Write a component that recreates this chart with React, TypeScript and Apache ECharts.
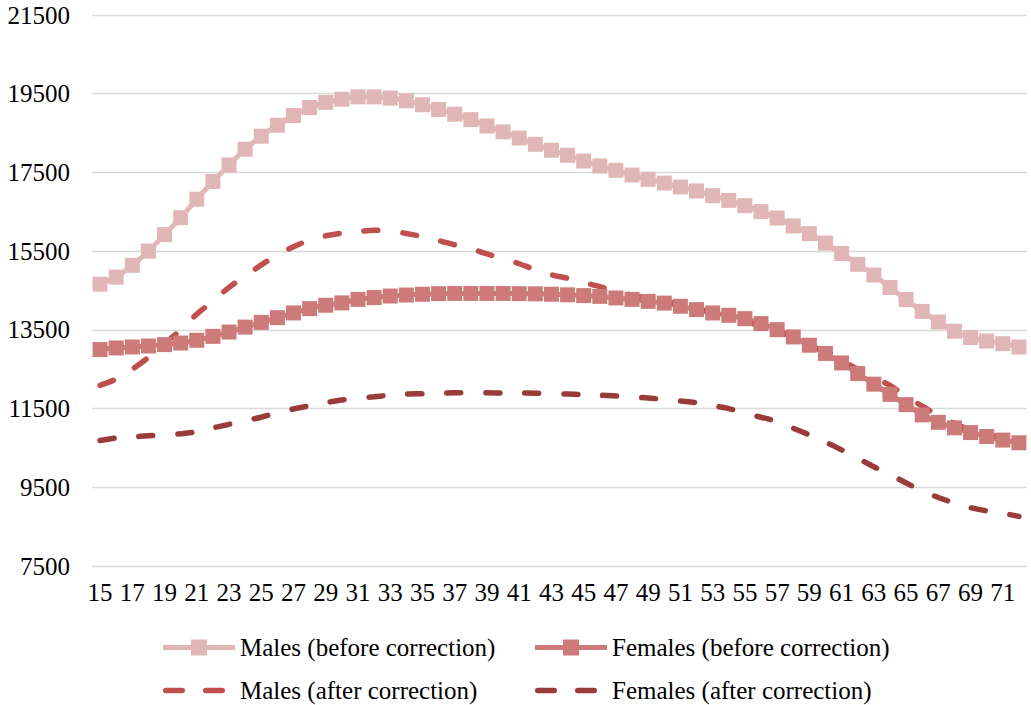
import React, { useEffect, useRef } from "react";
import * as echarts from "echarts";

const ages = [
  "15","16","17","18","19","20","21","22","23","24","25","26","27","28","29","30",
  "31","32","33","34","35","36","37","38","39","40","41","42","43","44","45","46",
  "47","48","49","50","51","52","53","54","55","56","57","58","59","60","61","62",
  "63","64","65","66","67","68","69","70","71","72",
];

const malesBefore = [
  14660, 14840, 15140, 15500, 15920, 16350, 16820, 17270, 17690, 18090, 18420, 18700, 18945, 19150, 19280, 19360,
  19420, 19420, 19390, 19320, 19220, 19100, 18980, 18840, 18680, 18530, 18375, 18215, 18065, 17935, 17790, 17665,
  17555, 17435, 17325, 17230, 17130, 17030, 16910, 16790, 16655, 16505, 16340, 16140, 15945, 15705, 15440, 15165,
  14895, 14575, 14270, 13970, 13700, 13465, 13305, 13215, 13150, 13065,
];

const femalesBefore = [
  13000, 13040, 13065, 13090, 13125, 13165, 13235, 13335, 13445, 13570, 13690, 13810, 13930, 14040, 14125, 14185,
  14275, 14320, 14360, 14385, 14405, 14420, 14425, 14425, 14425, 14425, 14420, 14415, 14405, 14390, 14370, 14350,
  14310, 14275, 14225, 14180, 14100, 14015, 13930, 13870, 13785, 13660, 13505, 13320, 13110, 12900, 12660, 12390,
  12120, 11860, 11600, 11340, 11150, 11010, 10890, 10790, 10700, 10630,
];

const malesAfter = [
  12090, 12250, 12500, 12800, 13150, 13500, 13900, 14230, 14580, 14860, 15150, 15400, 15610, 15780, 15890, 15960,
  16000, 16030, 16010, 15950, 15870, 15770, 15660, 15560, 15430, 15310, 15180, 15030, 14900, 14810, 14700, 14600,
  14480, 14380, 14300, 14220, 14150, 14040, 13940, 13800, 13700, 13610, 13470, 13320, 13130, 12920, 12720, 12500,
  12290, 12090, 11820, 11560, 11330, 11120, 10960, 10840, 10780, 10750,
];

const femalesAfter = [
  10690, 10750, 10780, 10810, 10830, 10860, 10910, 11010, 11100, 11200, 11280, 11400, 11490, 11570, 11650, 11720,
  11760, 11800, 11840, 11870, 11880, 11890, 11900, 11905, 11900, 11895, 11895, 11890, 11880, 11870, 11855, 11840,
  11820, 11790, 11770, 11730, 11690, 11650, 11570, 11500, 11380, 11280, 11170, 11000, 10830, 10650, 10450, 10240,
  10020, 9830, 9610, 9410, 9240, 9100, 8980, 8900, 8840, 8760,
];

const seriesNames = [
  "Males (before correction)",
  "Females (before correction)",
  "Males (after correction)",
  "Females (after correction)",
];

const FONT = "'Liberation Serif', 'Times New Roman', serif";
const C_MB = "#E0B7B6";
const C_FB = "#CD7B7A";
const C_MA = "#C0504D";
const C_FA = "#983B39";

// legend icons, in a 72 x 16 box
const ICON_MARKER_LINE =
  "path://M0 0 L0.01 0 Z M0 5.5 L72 5.5 L72 10.5 L0 10.5 Z M28 0 L44 0 L44 16 L28 16 Z M72 16 L71.99 16 Z";
const ICON_DASH =
  "path://M0 0 L0.01 0 Z M2.8 5.2 L19.2 5.2 A2.8 2.8 0 0 1 19.2 10.8 L2.8 10.8 A2.8 2.8 0 0 1 2.8 5.2 Z " +
  "M42.8 5.2 L59.2 5.2 A2.8 2.8 0 0 1 59.2 10.8 L42.8 10.8 A2.8 2.8 0 0 1 42.8 5.2 Z M72 16 L71.99 16 Z";

export default function App() {
  const ref = useRef<HTMLDivElement>(null);

  useEffect(() => {
    if (!ref.current) return;
    const chart = echarts.init(ref.current, undefined, { renderer: "svg" });

    const legendBase = (name: string, icon: string, left: number, top: number) => ({
      show: true,
      data: [{ name, icon }],
      left,
      top,
      padding: 0,
      itemWidth: 72,
      itemHeight: 16,
      textStyle: { fontFamily: FONT, fontSize: 25, color: "#000" },
    });

    chart.setOption({
      animation: false,
      backgroundColor: "#fff",
      grid: { left: 92, top: 15, width: 935, height: 551, containLabel: false },
      legend: [
        legendBase(seriesNames[0], ICON_MARKER_LINE, 163, 635),
        legendBase(seriesNames[1], ICON_MARKER_LINE, 535, 635),
        legendBase(seriesNames[2], ICON_DASH, 163, 678),
        legendBase(seriesNames[3], ICON_DASH, 535, 678),
      ],
      xAxis: {
        type: "category",
        data: ages,
        boundaryGap: true,
        axisLine: { show: false },
        axisTick: { show: false },
        axisLabel: {
          interval: 1,
          margin: 14,
          fontFamily: FONT,
          fontSize: 25,
          color: "#000",
        },
        splitLine: { show: false },
      },
      yAxis: {
        type: "value",
        min: 7500,
        max: 21500,
        interval: 2000,
        axisLine: { show: false },
        axisTick: { show: false },
        axisLabel: {
          margin: 22,
          fontFamily: FONT,
          fontSize: 25,
          color: "#000",
          formatter: (v: number) => String(v),
        },
        splitLine: { show: true, lineStyle: { color: "#D9D9D9", width: 1.3 } },
      },
      series: [
        {
          name: seriesNames[0],
          type: "line",
          data: malesBefore,
          smooth: 0.3,
          symbol: "rect",
          symbolSize: 15,
          showSymbol: true,
          showAllSymbol: true,
          itemStyle: { color: C_MB },
          lineStyle: { color: C_MB, width: 5 },
        },
        {
          name: seriesNames[1],
          type: "line",
          data: femalesBefore,
          smooth: 0.3,
          symbol: "rect",
          symbolSize: 15,
          showSymbol: true,
          showAllSymbol: true,
          itemStyle: { color: C_FB },
          lineStyle: { color: C_FB, width: 5 },
        },
        {
          name: seriesNames[2],
          type: "line",
          data: malesAfter,
          smooth: 0.3,
          symbol: "none",
          showSymbol: false,
          itemStyle: { color: C_MA },
          lineStyle: { color: C_MA, width: 5.5, type: [14, 25], cap: "round" },
        },
        {
          name: seriesNames[3],
          type: "line",
          data: femalesAfter,
          smooth: 0.3,
          symbol: "none",
          showSymbol: false,
          itemStyle: { color: C_FA },
          lineStyle: { color: C_FA, width: 5.5, type: [14, 25], cap: "round" },
        },
      ],
    });

    return () => chart.dispose();
  }, []);

  return (
    <div
      ref={ref}
      style={{ position: "absolute", left: 0, top: 0, width: 1031, height: 705, background: "#fff" }}
    />
  );
}
